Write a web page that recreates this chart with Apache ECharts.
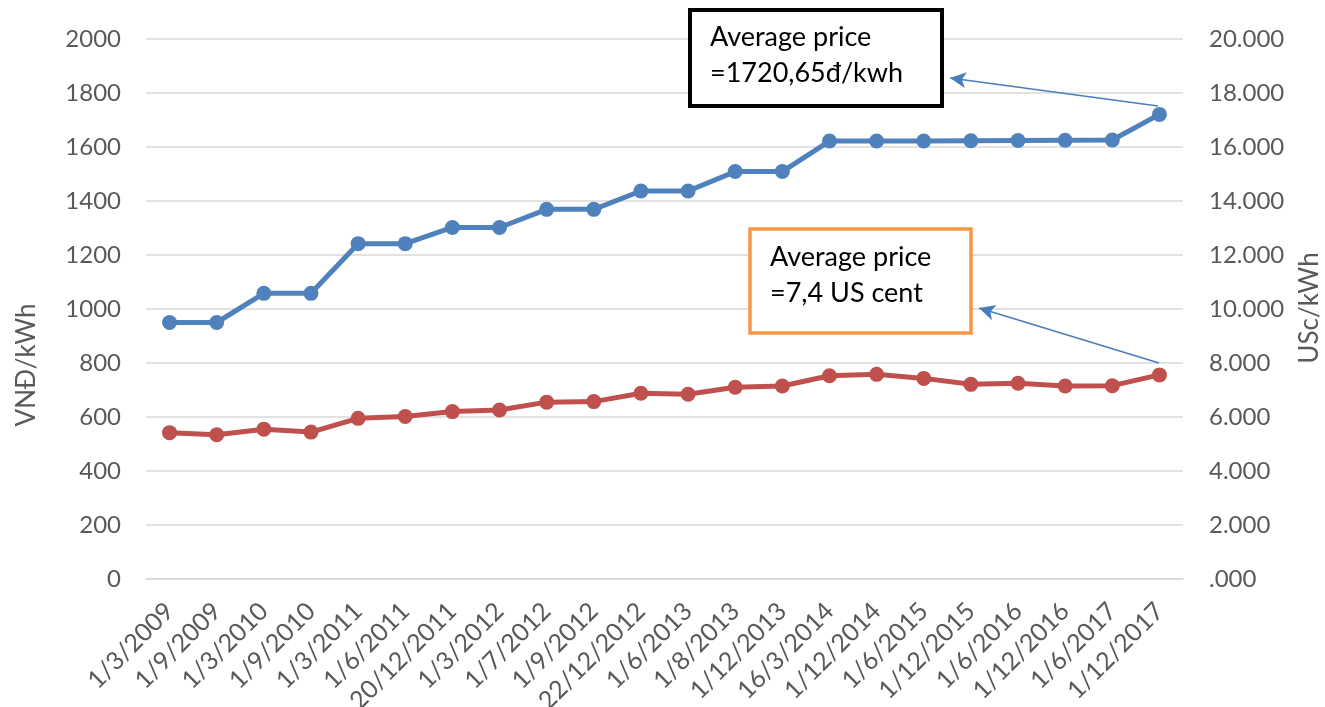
<!DOCTYPE html>
<html>
<head>
<meta charset="utf-8">
<title>Electricity price</title>
<script src="https://cdn.jsdelivr.net/npm/echarts@6/dist/echarts.min.js"></script>
<style>
  html, body { margin: 0; padding: 0; background: #fff; }
  #main { width: 1325px; height: 707px; }
</style>
</head>
<body>
<div id="main"></div>
<script>
// dates of each tariff change
var dates = ['1/3/2009', '1/9/2009', '1/3/2010', '1/9/2010', '1/3/2011', '1/6/2011',
  '20/12/2011', '1/3/2012', '1/7/2012', '1/9/2012', '22/12/2012', '1/6/2013',
  '1/8/2013', '1/12/2013', '16/3/2014', '1/12/2014', '1/6/2015', '1/12/2015',
  '1/6/2016', '1/12/2016', '1/6/2017', '1/12/2017'];
// average price VND/kWh (left axis)
var vndPrice = [950, 950, 1058, 1058, 1242, 1242, 1302, 1302, 1369, 1369, 1437, 1437,
  1509, 1509, 1622, 1622, 1622, 1623, 1624, 1625, 1626, 1720.65];
// average price US cent/kWh (right axis)
var usPrice = [5.42, 5.34, 5.55, 5.44, 5.95, 6.02, 6.20, 6.26, 6.55, 6.57, 6.88, 6.84,
  7.10, 7.15, 7.53, 7.58, 7.43, 7.21, 7.25, 7.15, 7.16, 7.56];
var noteVnd = ['Average price', '=1720,65đ/kwh'];
var noteUs = ['Average price', '=7,4 US cent'];

var font = 'Lato';
var grey = '#595959';
var myChart = echarts.init(document.getElementById('main'));

var option = {
    backgroundColor: '#fff',
    animation: false,
    textStyle: { fontFamily: font },
    grid: { left: 146, right: 142, top: 39, bottom: 128, containLabel: false, outerBoundsMode: 'none' },
    xAxis: {
        type: 'category',
        data: dates,
        boundaryGap: true,
        axisLine: { lineStyle: { color: '#D9D9D9', width: 1.5 } },
        axisTick: { show: false },
        axisLabel: { rotate: 45, fontSize: 25, color: grey, fontFamily: font, margin: 28, interval: 0 }
    },
    yAxis: [
        {
            type: 'value', min: 0, max: 2000, interval: 200,
            axisLine: { show: false }, axisTick: { show: false },
            axisLabel: {
                fontSize: 24, color: grey, fontFamily: font, margin: 25,
                formatter: function (v) { return String(v); }
            },
            splitLine: { lineStyle: { color: '#D9D9D9', width: 1.5 } }
        },
        {
            type: 'value', min: 0, max: 20, interval: 2,
            axisLine: { show: false }, axisTick: { show: false },
            splitLine: { show: false },
            axisLabel: {
                fontSize: 24, color: grey, fontFamily: font, margin: 26,
                formatter: function (v) { return v === 0 ? '.000' : v.toFixed(3); }
            }
        }
    ],
    series: [
        {
            name: 'VND/kWh',
            type: 'line',
            data: vndPrice,
            symbol: 'circle',
            symbolSize: 15,
            lineStyle: { color: '#4F81BD', width: 5 },
            itemStyle: { color: '#4F81BD' },
            markLine: {
                silent: true,
                symbol: ['none', 'arrow'],
                symbolSize: [12, 16],
                label: { show: false },
                lineStyle: { color: '#4A7EBB', width: 1.5, type: 'solid' },
                data: [
                    [{ x: 1158, y: 106 }, { x: 950, y: 78 }],
                    [{ x: 1159, y: 363 }, { x: 979, y: 308 }]
                ]
            }
        },
        {
            name: 'USc/kWh',
            type: 'line',
            yAxisIndex: 1,
            data: usPrice,
            symbol: 'circle',
            symbolSize: 15,
            lineStyle: { color: '#C0504D', width: 5 },
            itemStyle: { color: '#C0504D' }
        }
    ],
    graphic: [
        {
            type: 'text', x: 27, y: 365, rotation: Math.PI / 2,
            style: { text: 'VNĐ/kWh', font: '26px ' + font, fill: grey, align: 'center', verticalAlign: 'middle' }
        },
        {
            type: 'text', x: 1310, y: 308, rotation: Math.PI / 2,
            style: { text: 'USc/kWh', font: '26px ' + font, fill: grey, align: 'center', verticalAlign: 'middle' }
        },
        {
            type: 'rect', z: 50, shape: { x: 690, y: 10, width: 252, height: 96 },
            style: { fill: '#fff', stroke: '#000', lineWidth: 4 }
        },
        {
            type: 'text', z: 51, x: 710, y: 19,
            style: { text: noteVnd.join('\n'), font: '27px ' + font, fill: '#000', lineHeight: 36 }
        },
        {
            type: 'rect', z: 50, shape: { x: 750, y: 229, width: 221, height: 104 },
            style: { fill: '#fff', stroke: '#F79646', lineWidth: 3.5 }
        },
        {
            type: 'text', z: 51, x: 770, y: 239,
            style: { text: noteUs.join('\n'), font: '27px ' + font, fill: '#000', lineHeight: 36 }
        }
    ]
};
myChart.setOption(option);
</script>
</body>
</html>
